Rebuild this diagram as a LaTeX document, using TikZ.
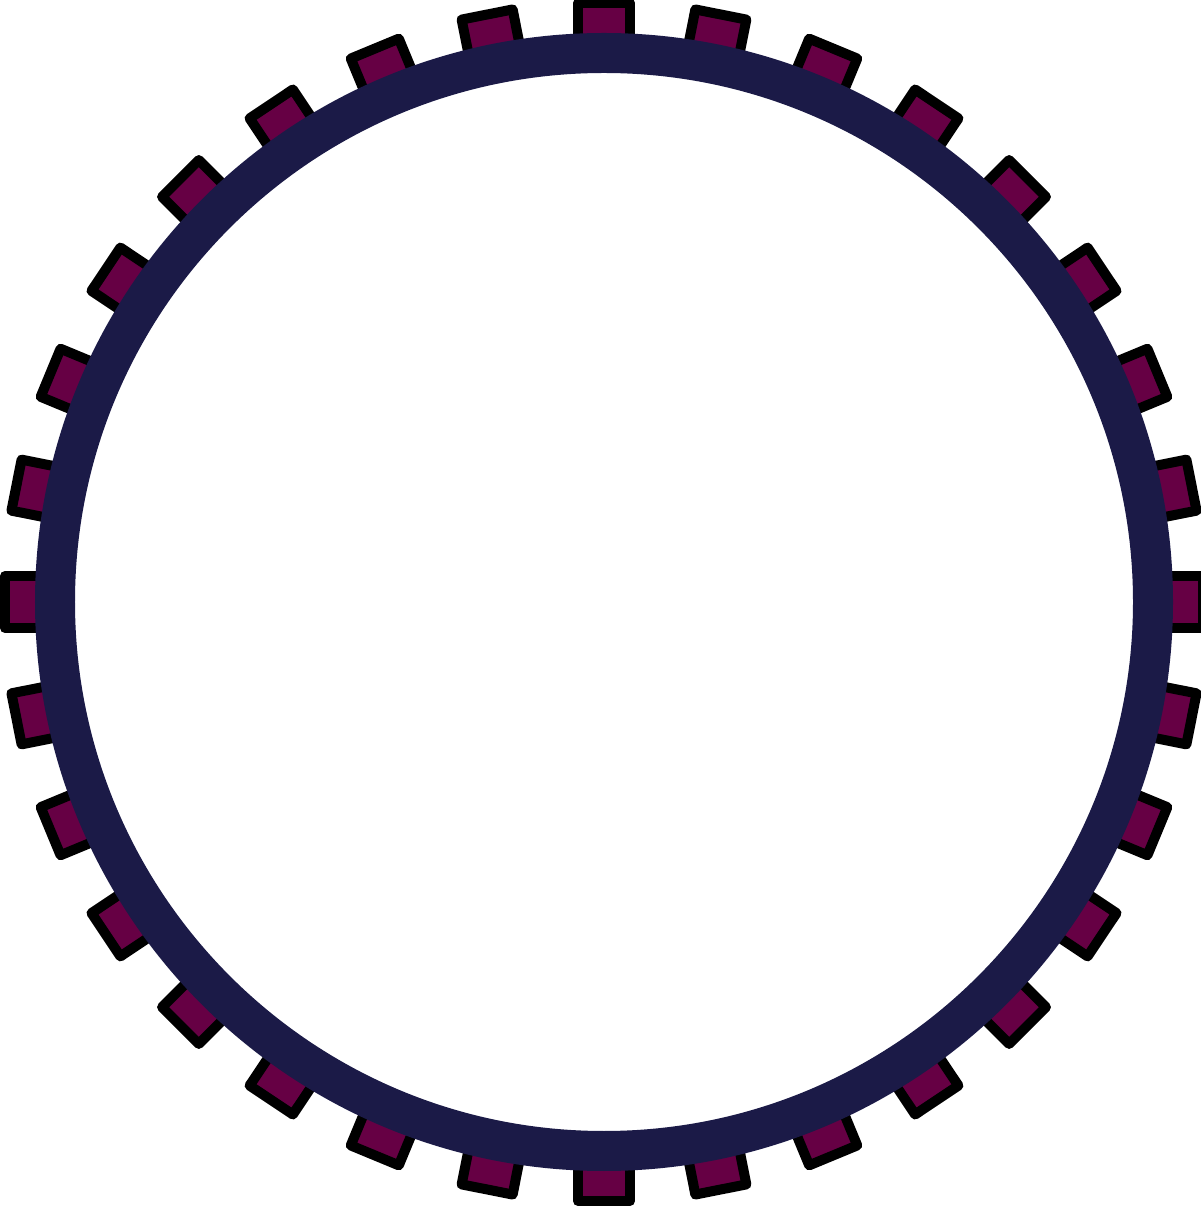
\documentclass[tikz,border=0pt]{standalone}
\usepackage{tikz}

\definecolor{ringNavy}{HTML}{1B1A47}
\definecolor{toothPurple}{HTML}{660044}

\begin{document}
\begin{tikzpicture}[
        ring/.style={draw=ringNavy, line width=0.40cm},
        tooth/.style={fill=toothPurple, draw=black, line width=0.10cm, line join=round}
    ]

    % --- 参数 ---
    \def\cx{6.04}       % 圆心 x
    \def\cy{6.04}       % 圆心 y
    \def\ringR{5.49}    % 圆环半径
    \def\toothW{0.26}   % 齿半宽
    \def\toothIn{5.45}  % 齿内端
    \def\toothOut{5.99} % 齿外端

    \useasboundingbox (0,0) rectangle (12,12.06);
    \coordinate (c) at (\cx,\cy);

    % --- 1. 外齿 (先画, 被圆环压住) ---
    \begin{scope}[shift={(c)}]
        \foreach \i in {0,...,31} {
            \draw[tooth, rotate=\i*11.25] (-\toothW,\toothIn) rectangle (\toothW,\toothOut);
        }
    \end{scope}

    % --- 2. 圆环 ---
    \draw[ring] (c) circle (\ringR);

\end{tikzpicture}
\end{document}
